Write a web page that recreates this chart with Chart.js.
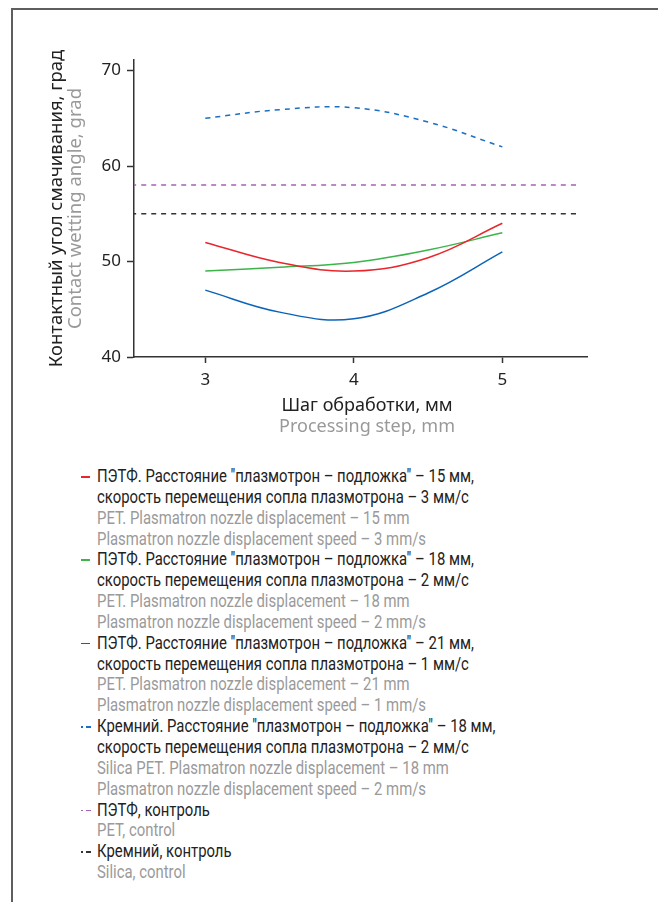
<!DOCTYPE html>
<html>
<head>
<meta charset="utf-8">
<script src="https://cdn.jsdelivr.net/npm/chart.js@4.4.1/dist/chart.umd.min.js"></script>
<style>
  html, body { margin: 0; padding: 0; background: #fff; overflow: hidden; }
  #page { position: relative; width: 658px; height: 902px; }
  #frame { position: absolute; left: 11px; top: 8px; width: 700px; height: 950px;
           border-left: 2px solid #5e5e5e; border-top: 2px solid #5e5e5e; }
  #chartBox { position: absolute; left: 0; top: 0; width: 658px; height: 450px; }
  #legend { position: absolute; left: 81px; top: 466px; font-family: Roboto, sans-serif;
            font-size: 17.5px; line-height: 20.85px; }
  .item { position: relative; padding-left: 16px; }
  .txt { transform: scaleX(0.85); transform-origin: 0 0; white-space: nowrap; }
  .ru { color: #222; }
  .en { color: #9a9a9a; }
  .sw { position: absolute; top: 10px; height: 1.5px; }
</style>
</head>
<body>
<div id="page">
  <div id="frame"></div>
  <div id="chartBox"><canvas id="myChart"></canvas></div>
  <div id="legend"></div>
</div>
<script>
// data
const steps = [3, 3.5, 4, 4.5, 5];
const pet15 = [52, 49.9, 49.0, 50.4, 54];
const pet18 = [49, 49.4, 49.9, 51.2, 53];
const pet21 = [47, 44.7, 44.0, 46.7, 51];
const silica18 = [65, 65.9, 66.1, 64.6, 62];
const controlSpan = [2.5, 5.5];
const petControl = 58;
const silicaControl = 55;
const xTicks = [3, 4, 5];
const yTicks = [40, 50, 60, 70];

const seriesNames = [
  ['ПЭТФ. Расстояние "плазмотрон – подложка" – 15 мм,', 'скорость перемещения сопла плазмотрона – 3 мм/с',
   'PET. Plasmatron nozzle displacement – 15 mm', 'Plasmatron nozzle displacement speed – 3 mm/s'],
  ['ПЭТФ. Расстояние "плазмотрон – подложка" – 18 мм,', 'скорость перемещения сопла плазмотрона – 2 мм/с',
   'PET. Plasmatron nozzle displacement – 18 mm', 'Plasmatron nozzle displacement speed – 2 mm/s'],
  ['ПЭТФ. Расстояние "плазмотрон – подложка" – 21 мм,', 'скорость перемещения сопла плазмотрона – 1 мм/с',
   'PET. Plasmatron nozzle displacement – 21 mm', 'Plasmatron nozzle displacement speed – 1 mm/s'],
  ['Кремний. Расстояние "плазмотрон – подложка" – 18 мм,', 'скорость перемещения сопла плазмотрона – 2 мм/с',
   'Silica PET. Plasmatron nozzle displacement – 18 mm', 'Plasmatron nozzle displacement speed – 2 mm/s'],
  ['ПЭТФ, контроль', 'PET, control'],
  ['Кремний, контроль', 'Silica, control']
];
const ruLines = [2, 2, 2, 2, 1, 1];
const colors = ['#e8262b', '#3cb44a', '#0b63b8', '#1a6fc4', '#a463b3', '#333333'];
const dashed = [false, false, false, true, true, true];

const yTitle = ['Контактный угол смачивания, град', 'Contact wetting angle, grad'];
const xTitle = ['Шаг обработки, мм', 'Processing step, mm'];

function pts(xs, ys) { return xs.map((x, i) => ({x: x, y: ys[i]})); }

const valueSets = [
  pts(steps, pet15), pts(steps, pet18), pts(steps, pet21), pts(steps, silica18),
  pts(controlSpan, [petControl, petControl]), pts(controlSpan, [silicaControl, silicaControl])
];

const datasets = valueSets.map((d, i) => ({
  label: seriesNames[i][0],
  data: d,
  borderColor: colors[i],
  borderWidth: 1.5,
  borderDash: dashed[i] ? [5, 5] : [],
  pointRadius: 0,
  tension: 0.4,
  fill: false
}));

const titlePlugin = {
  id: 'titles',
  afterDraw(chart) {
    const ctx = chart.ctx;
    const a = chart.chartArea;
    ctx.save();
    ctx.font = '18px "Noto Sans"';
    ctx.textAlign = 'center';
    ctx.textBaseline = 'middle';
    // x title
    ctx.fillStyle = '#222';
    ctx.fillText(xTitle[0], 367, 406);
    ctx.fillStyle = '#999';
    ctx.fillText(xTitle[1], 367, 427);
    // y title
    const cy = (a.top + a.bottom) / 2;
    ctx.translate(57, cy);
    ctx.rotate(-Math.PI / 2);
    ctx.font = '18.5px "Noto Sans"';
    ctx.fillStyle = '#222';
    ctx.fillText(yTitle[0], 0, 0);
    ctx.fillStyle = '#999';
    ctx.fillText(yTitle[1], 0, 19);
    ctx.restore();
  }
};

const ctx = document.getElementById('myChart').getContext('2d');
new Chart(ctx, {
  type: 'line',
  data: { datasets: datasets },
  options: {
    responsive: true,
    maintainAspectRatio: false,
    animation: false,
    layout: { padding: { left: 0, top: 60, right: 71, bottom: 0 } },
    plugins: { legend: { display: false }, tooltip: { enabled: false } },
    scales: {
      x: {
        type: 'linear', min: 2.52, max: 5.57,
        afterBuildTicks(scale) { scale.ticks = xTicks.map(v => ({value: v})); },
        afterFit(scale) { scale.height = 93; },
        grid: { drawOnChartArea: false, tickLength: 6, color: '#333', tickWidth: 1.5 },
        border: { color: '#333', width: 1.5 },
        ticks: { color: '#222', font: { family: 'Noto Sans', size: 17 }, padding: 7 }
      },
      y: {
        min: 40, max: 71.1,
        afterBuildTicks(scale) { scale.ticks = yTicks.map(v => ({value: v})); },
        afterFit(scale) { scale.width = 134; },
        grid: { drawOnChartArea: false, tickLength: 7, color: '#333', tickWidth: 1.5 },
        border: { color: '#333', width: 1.5 },
        ticks: { color: '#222', font: { family: 'Noto Sans', size: 17 }, padding: 6 }
      }
    }
  },
  plugins: [titlePlugin]
});

// legend built from the same series
const legend = document.getElementById('legend');
function swatch(item, left, width, color) {
  const sw = document.createElement('div');
  sw.className = 'sw';
  sw.style.left = left + 'px';
  sw.style.width = width + 'px';
  sw.style.background = color;
  item.appendChild(sw);
}
seriesNames.forEach((lines, i) => {
  const item = document.createElement('div');
  item.className = 'item';
  if (dashed[i]) {
    swatch(item, 0, 1.5, colors[i]);
    swatch(item, 5, 5, colors[i]);
  } else {
    swatch(item, 0, 9, colors[i]);
  }
  lines.forEach((t, j) => {
    const ln = document.createElement('div');
    ln.className = 'txt ' + (j < ruLines[i] ? 'ru' : 'en');
    ln.textContent = t;
    item.appendChild(ln);
  });
  legend.appendChild(item);
});
</script>
</body>
</html>
